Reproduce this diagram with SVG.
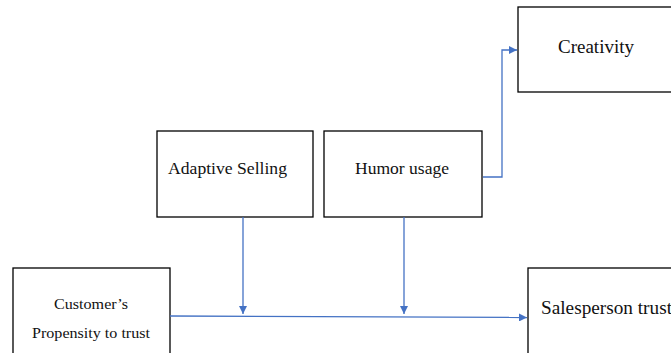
<svg xmlns="http://www.w3.org/2000/svg" width="671" height="353" viewBox="0 0 671 353">
<style>
.box{fill:#fff;stroke:#000;stroke-width:1.3}
.t{font-family:"Liberation Serif","Times New Roman",serif;fill:#111}
.c{fill:none;stroke:#4472C4;stroke-width:1.3}
</style>
<defs>
<marker id="ah" viewBox="0 0 10 10" refX="10" refY="5" markerWidth="8" markerHeight="8" markerUnits="userSpaceOnUse" orient="auto">
<path d="M0,0 L10,5 L0,10 z" fill="#4472C4"/>
</marker>
</defs>
<rect width="671" height="353" fill="#fff"/>
<g id="creativity">
<rect class="box" x="518" y="7" width="160" height="85"/>
<text class="t" x="558" y="53" font-size="18" textLength="76" lengthAdjust="spacingAndGlyphs">Creativity</text>
</g>
<g id="adaptive-selling">
<rect class="box" x="157" y="131" width="156" height="86"/>
<text class="t" x="168" y="174" font-size="16.5" textLength="119" lengthAdjust="spacingAndGlyphs">Adaptive Selling</text>
</g>
<g id="humor-usage">
<rect class="box" x="324" y="131" width="158" height="86"/>
<text class="t" x="355" y="174" font-size="17" textLength="94" lengthAdjust="spacingAndGlyphs">Humor usage</text>
</g>
<g id="customers-propensity">
<rect class="box" x="13" y="268" width="157" height="95"/>
<text class="t" x="54" y="309" font-size="14.5" textLength="74" lengthAdjust="spacingAndGlyphs">Customer’s</text>
<text class="t" x="32" y="338" font-size="14.5" textLength="118" lengthAdjust="spacingAndGlyphs">Propensity to trust</text>
</g>
<g id="salesperson-trust">
<rect class="box" x="528" y="268" width="160" height="95"/>
<text class="t" x="541" y="314" font-size="18" textLength="131" lengthAdjust="spacingAndGlyphs">Salesperson trust</text>
</g>
<g id="connectors">
<path class="c" d="M483,177 H502 V50 H517" marker-end="url(#ah)"/>
<path class="c" d="M170,316 L527,317.5" marker-end="url(#ah)"/>
<path class="c" d="M243,217 V314" marker-end="url(#ah)"/>
<path class="c" d="M404,217 V314" marker-end="url(#ah)"/>
</g>
</svg>
